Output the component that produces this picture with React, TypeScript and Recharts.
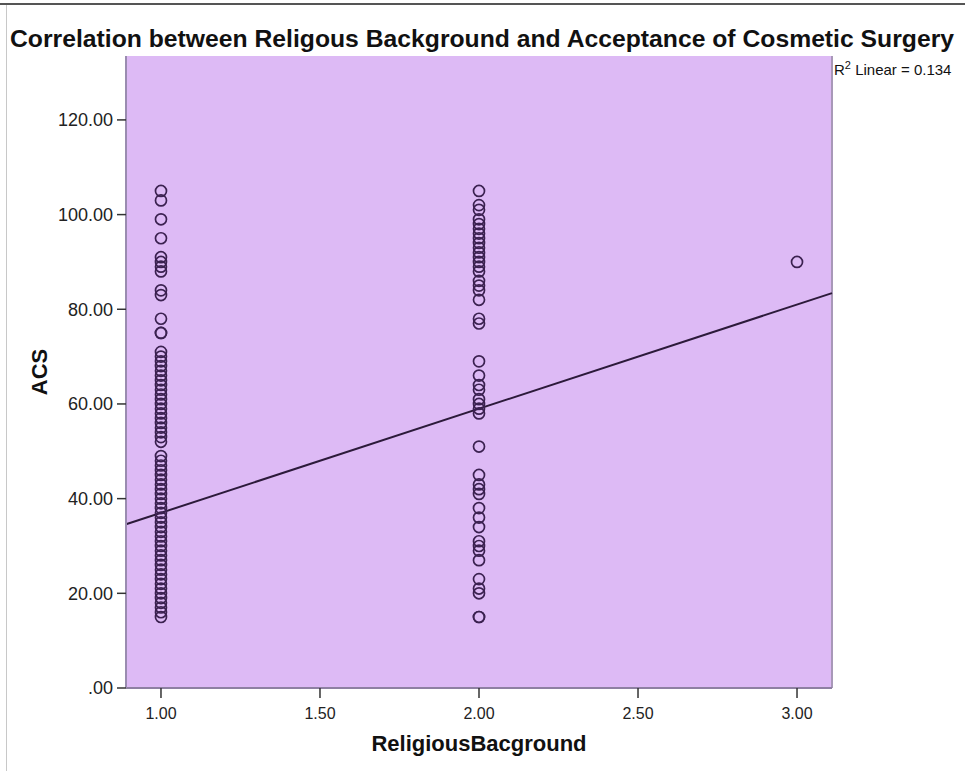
import React from 'react';
import {
  ScatterChart,
  Scatter,
  XAxis,
  YAxis,
  CartesianGrid,
  ReferenceLine,
  Label,
} from 'recharts';

// ACS scores read per religious-background group
const ACS_GROUP_1 = [
  105, 103, 99, 95, 91, 90, 89, 88, 84, 83, 78, 75, 75, 71, 70, 69, 68, 67, 66, 65, 64, 63,
  62, 61, 60, 59, 58, 57, 56, 55, 54, 53, 52, 49, 48, 47, 46, 45, 44, 43, 42, 41, 40, 39,
  38, 37, 36, 35, 34, 33, 32, 31, 30, 29, 28, 27, 26, 25, 24, 23, 22, 21, 20, 19, 18, 17,
  16, 15,
];
const ACS_GROUP_2 = [
  105, 102, 101, 99, 98, 97, 96, 95, 94, 93, 92, 91, 90, 89, 88, 86, 85, 84, 82, 78, 77, 69,
  66, 64, 63, 61, 60, 59, 58, 51, 45, 43, 42, 41, 38, 36, 34, 31, 30, 29, 27, 23, 21, 20,
  15, 15,
];
const ACS_GROUP_3 = [90];

const X_TICKS = [1, 1.5, 2, 2.5, 3];
const Y_TICKS = [0, 20, 40, 60, 80, 100, 120];
const X_DOMAIN: [number, number] = [0.89, 3.11];
const Y_DOMAIN: [number, number] = [0, 133.5];

// fit line (R2 linear = 0.134)
const FIT_INTERCEPT = 15;
const FIT_SLOPE = 22;

const points = [
  ...ACS_GROUP_1.map((acs) => ({ rel: 1, acs })),
  ...ACS_GROUP_2.map((acs) => ({ rel: 2, acs })),
  ...ACS_GROUP_3.map((acs) => ({ rel: 3, acs })),
];

const fitSegment = X_DOMAIN.map((x) => ({ x, y: FIT_INTERCEPT + FIT_SLOPE * x }));

const font = '"Liberation Sans", Arial, sans-serif';

const OpenCircle = (props: any) => {
  const { cx, cy } = props;
  return <circle cx={cx} cy={cy} r={5.5} fill="none" stroke="#3b2150" strokeWidth={1.7} />;
};

export default function App() {
  return (
    <div
      style={{
        position: 'absolute',
        left: 0,
        top: 0,
        width: 965,
        height: 771,
        background: '#fff',
        fontFamily: font,
      }}
    >
      <div style={{ position: 'absolute', left: 0, top: 3, width: 965, height: 2, background: '#555' }} />
      <div style={{ position: 'absolute', left: 6, top: 5, width: 1, height: 766, background: '#c8c8c8' }} />
      <svg style={{ position: 'absolute', left: 0, top: 0 }} width={965} height={771}>
        <text
          x={482}
          y={47}
          textAnchor="middle"
          fontFamily={font}
          fontWeight="bold"
          fontSize={23}
          fill="#111"
          textLength={944}
          lengthAdjust="spacingAndGlyphs"
        >
          Correlation between Religous Background and Acceptance of Cosmetic Surgery
        </text>
        <text x={834} y={75} fontFamily={font} fontSize={15} fill="#111">
          R<tspan dy={-6} fontSize={11}>2</tspan>
          <tspan dy={6}> Linear = 0.134</tspan>
        </text>
      </svg>
      <div style={{ position: 'absolute', left: 0, top: 0 }}>
        <ScatterChart
          width={965}
          height={771}
          margin={{ top: 56, right: 133, left: 36, bottom: 13 }}
        >
          <CartesianGrid fill="#ddbaf5" stroke="none" horizontal={false} vertical={false} />
          <XAxis
            type="number"
            dataKey="rel"
            domain={X_DOMAIN}
            ticks={X_TICKS}
            allowDataOverflow
            height={70}
            tickFormatter={(v: number) => v.toFixed(2)}
            tick={{ fill: '#222', fontSize: 16, fontFamily: font }}
            tickSize={10}
            tickMargin={10}
            axisLine={{ stroke: '#8e80a2', strokeWidth: 2 }}
            tickLine={{ stroke: '#333', strokeWidth: 1.5 }}
          >
            <Label
              value="ReligiousBacground"
              position="insideBottom"
              offset={7}
              style={{ fontSize: 22, fontWeight: 'bold', fill: '#111', fontFamily: font }}
            />
          </XAxis>
          <YAxis
            type="number"
            dataKey="acs"
            domain={Y_DOMAIN}
            ticks={Y_TICKS}
            allowDataOverflow
            width={90}
            tickFormatter={(v: number) => (v === 0 ? '.00' : v.toFixed(2))}
            tick={{ fill: '#222', fontSize: 18, fontFamily: font }}
            tickSize={9}
            tickMargin={4}
            axisLine={{ stroke: '#9a8cb0', strokeWidth: 2 }}
            tickLine={{ stroke: '#333', strokeWidth: 1.5 }}
          >
            <Label
              value="ACS"
              angle={-90}
              position="insideLeft"
              offset={3}
              style={{ fontSize: 22, fontWeight: 'bold', fill: '#111', fontFamily: font, textAnchor: 'middle' }}
            />
          </YAxis>
          <ReferenceLine x={X_DOMAIN[1]} stroke="#a898b8" strokeWidth={2} />
          <ReferenceLine
            segment={fitSegment}
            stroke="#2c1a3a"
            strokeWidth={2}
            ifOverflow="visible"
          />
          <Scatter data={points} shape={OpenCircle} isAnimationActive={false} />
        </ScatterChart>
      </div>
    </div>
  );
}
